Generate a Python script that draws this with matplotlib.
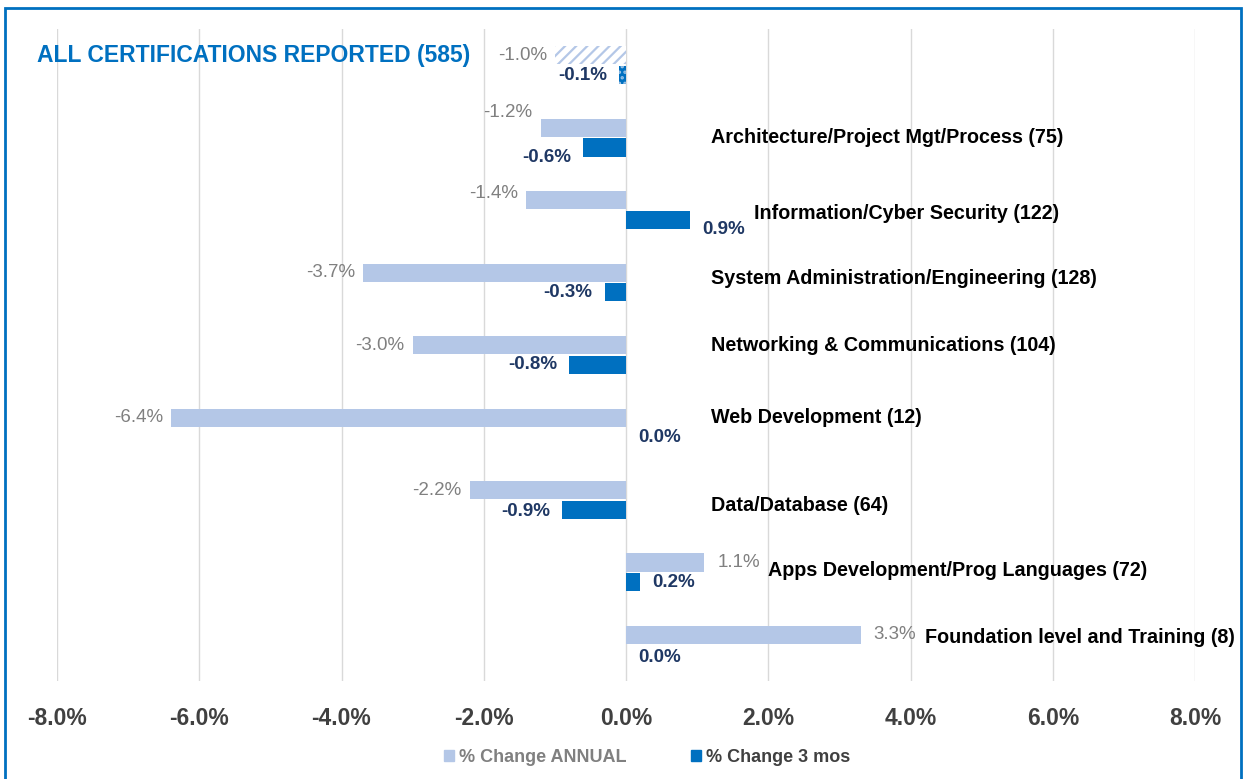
import numpy as np
import matplotlib.pyplot as plt
from matplotlib.patches import Rectangle, Patch
from matplotlib.transforms import blended_transform_factory

plt.rcParams['font.family'] = ['Liberation Sans', 'DejaVu Sans']
plt.rcParams['hatch.linewidth'] = 1.6

# Данные
categories = ['ALL CERTIFICATIONS REPORTED (585)',
              'Architecture/Project Mgt/Process (75)',
              'Information/Cyber Security (122)',
              'System Administration/Engineering (128)',
              'Networking & Communications (104)',
              'Web Development (12)',
              'Data/Database (64)',
              'Apps Development/Prog Languages (72)',
              'Foundation level and Training (8)']
annual = [-1.0, -1.2, -1.4, -3.7, -3.0, -6.4, -2.2, 1.1, 3.3]
three_mos = [-0.1, -0.6, 0.9, -0.3, -0.8, 0.0, -0.9, 0.2, 0.0]
xticks = [-8, -6, -4, -2, 0, 2, 4, 6, 8]

# сдвиги подписей по вертикали (в пикселях), как в исходнике
annual_dy = [0, -15, -7, 0, 0, 0, 0, 0, 0]
m3_dy = [0, 10, 10, 0, 0, 0, 2, 0, 3]
cat_dy = [0, 0, 3, -4, -10, -10, 6, -2, -7]

annual_color = '#B4C7E7'
m3_color = '#0070C0'
navy = '#1F3864'
gray = '#808080'
px = 0.72  # пиксели -> пункты

fig = plt.figure(figsize=(12.47, 7.79), dpi=100)
ax = fig.add_axes([57 / 1247, 1 - 681 / 779, 1138 / 1247, 652 / 779])

y = np.arange(len(categories))
off = 0.135
h = 0.25

# обычные столбцы
ax.barh(y[1:] - off, annual[1:], height=h, color=annual_color, zorder=2)
ax.barh(y[1:] + off, three_mos[1:], height=h, color=m3_color, zorder=2)
# итоговая строка со штриховкой
ax.barh(y[0] - off, annual[0], height=h, color='white', edgecolor=annual_color,
        hatch='///', linewidth=0, zorder=2)
ax.barh(y[0] + off, three_mos[0], height=h, color=m3_color, edgecolor='#9DC3E6',
        hatch='...', linewidth=0, zorder=2)

# подписи значений
for i, (a, m) in enumerate(zip(annual, three_mos)):
    ax.annotate(f'{a:.1f}%', (a, i - off),
                xytext=((-8 if a < 0 else 13) * px, -annual_dy[i] * px),
                textcoords='offset points', ha='right' if a < 0 else 'left',
                va='center', color=gray, fontsize=13.5)
    ax.annotate(f'{m:.1f}%', (m, i + off),
                xytext=((-12 if m < 0 else 12) * px, -m3_dy[i] * px),
                textcoords='offset points', ha='right' if m < 0 else 'left',
                va='center', color=navy, fontsize=13.5, fontweight='bold')

# названия категорий
for i in range(1, len(categories)):
    x = max(annual[i], three_mos[i], 0.3) + 0.9
    ax.annotate(categories[i], (x, i), xytext=(0, -cat_dy[i] * px),
                textcoords='offset points', ha='left', va='center',
                fontsize=14.2, fontweight='bold', color='black')

tr = blended_transform_factory(ax.transAxes, ax.transData)
ax.text(-0.0176, y[0] - off, categories[0], transform=tr, ha='left', va='center',
        fontsize=16.5, fontweight='bold', color=m3_color)

ax.set_xlim(-8, 8)
ax.set_ylim(8.5, -0.5)
ax.set_xticks(xticks)
ax.set_xticklabels([f'{t:.1f}%' for t in xticks])
ax.set_yticks([])
ax.grid(axis='x', color='#D9D9D9', linewidth=1, zorder=0)
ax.set_axisbelow(True)
for s in ax.spines.values():
    s.set_visible(False)
ax.tick_params(axis='x', length=0, pad=19, labelsize=16.5, labelcolor='#404040')
for lbl in ax.get_xticklabels():
    lbl.set_fontweight('bold')

# легенда
handles = [Patch(color=annual_color), Patch(color=m3_color)]
leg = fig.legend(handles, ['% Change ANNUAL', '% Change 3 mos'], loc='center',
                 bbox_to_anchor=(647 / 1247, 1 - 757 / 779), ncol=2, frameon=False,
                 handlelength=0.55, handleheight=0.55, handletextpad=0.25,
                 columnspacing=3.6, prop={'weight': 'bold', 'size': 13})
leg.get_texts()[0].set_color(gray)
leg.get_texts()[1].set_color('#404040')

# рамка
fig.patches.append(Rectangle((5 / 1247, -0.05), 1236 / 1247, 1 - 8 / 779 + 0.05,
                             transform=fig.transFigure, fill=False,
                             edgecolor=m3_color, linewidth=2))

fig.savefig('out.png', dpi=100)
